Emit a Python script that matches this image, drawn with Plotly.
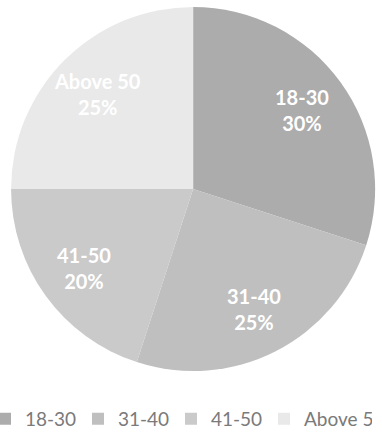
import math
import plotly.graph_objects as go

# Age groups and their share of respondents (percent)
age_groups = ["18-30", "31-40", "41-50", "Above 50"]
shares = [30, 25, 20, 25]
slice_colors = ["#acacac", "#bfbfbf", "#cacaca", "#e9e9e9"]

W, H = 382, 434
pie_x = [0.029, 0.982]
pie_y = [0.145, 0.984]

fig = go.Figure(
    go.Pie(
        labels=age_groups,
        values=shares,
        sort=False,
        direction="clockwise",
        rotation=0,
        marker=dict(colors=slice_colors, line=dict(width=0)),
        textinfo="none",
        hoverinfo="skip",
        domain=dict(x=pie_x, y=pie_y),
    )
)

# Data labels: category and percentage, placed along each slice's bisector
cx = (pie_x[0] + pie_x[1]) / 2 * W
cy = (pie_y[0] + pie_y[1]) / 2 * H
radius = min((pie_x[1] - pie_x[0]) * W, (pie_y[1] - pie_y[0]) * H) / 2
total = sum(shares)
start = 0.0
for name, val in zip(age_groups, shares):
    mid = (start + val / 2) / total * 2 * math.pi  # clockwise from 12 o'clock
    start += val
    r = 0.74 * radius
    px = cx + r * math.sin(mid)
    py = cy + r * math.cos(mid)
    fig.add_annotation(
        x=px / W,
        y=py / H,
        xref="paper",
        yref="paper",
        text=f"{name}<br>{round(val / total * 100)}%",
        showarrow=False,
        xanchor="center",
        yanchor="middle",
        font=dict(family="Lato", size=20, color="white", weight="bold"),
    )

fig.update_layout(
    width=W,
    height=H,
    margin=dict(l=0, r=0, t=0, b=0, autoexpand=False),
    paper_bgcolor="white",
    plot_bgcolor="white",
    showlegend=True,
    legend=dict(
        orientation="h",
        x=0,
        xanchor="left",
        y=0.035,
        yanchor="middle",
        indentation=-15,
        font=dict(family="Lato", size=19, color="#7a7a7a"),
        itemwidth=30,
        entrywidth=63,
        entrywidthmode="pixels",
        traceorder="normal",
    ),
)

fig.write_html("out.html")
